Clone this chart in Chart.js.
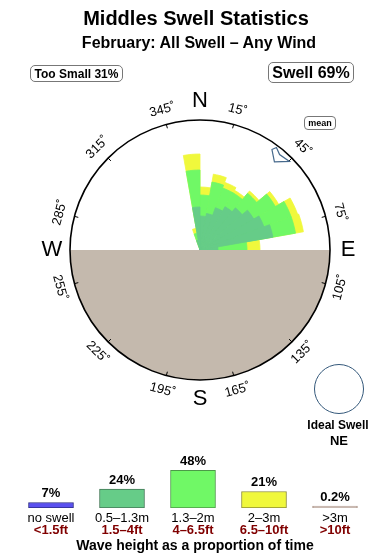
<!DOCTYPE html>
<html>
<head>
<meta charset="utf-8">
<script src="https://cdn.jsdelivr.net/npm/chart.js@4.4.1/dist/chart.umd.min.js"></script>
<style>
body{margin:0;background:#fff;font-family:"Liberation Sans",Arial,sans-serif;}
#wrap{position:relative;width:390px;height:560px;overflow:hidden;}
canvas{position:absolute;left:0;}
.t{position:absolute;white-space:nowrap;font-weight:bold;color:#000;}
.c{left:0;width:390px;text-align:center;}
.box{position:absolute;border:1px solid #777;border-radius:5px;box-sizing:border-box;display:flex;align-items:center;justify-content:center;font-weight:bold;white-space:nowrap;}
</style>
</head>
<body>
<div id="wrap">
<canvas id="rose" width="390" height="440" style="top:0"></canvas>
<canvas id="bands" width="390" height="120" style="top:440px"></canvas>

<div class="t c" style="top:8px;font-size:20px;line-height:21px;left:1px">Middles Swell Statistics</div>
<div class="t c" style="top:35px;font-size:16px;line-height:16px;left:4px">February: All Swell – Any Wind</div>
<div class="box" style="left:30px;top:65px;width:93px;height:17px;font-size:12px">Too Small 31%</div>
<div class="box" style="left:268px;top:62px;width:86px;height:21px;font-size:16px">Swell 69%</div>
<div class="box" style="left:304px;top:116px;width:32px;height:14px;font-size:9px;border-radius:4px">mean</div>

<div style="position:absolute;left:314px;top:364px;width:50px;height:50px;border:1px solid #34587a;border-radius:50%;box-sizing:border-box"></div>
<div class="t" style="left:288px;width:100px;text-align:center;top:419px;font-size:12px;line-height:12px">Ideal Swell</div>
<div class="t" style="left:289px;width:100px;text-align:center;top:434px;font-size:13px;line-height:13px">NE</div>

<div class="t c" style="top:538px;font-size:14px;line-height:14px">Wave height as a proportion of time</div>
</div>

<script>
// direction bins (centre of each 10 degree sector, clockwise from north)
var dirBins = [5,15,25,35,45,55,65,75,85,95,105,115,125,135,145,155,165,175,
               185,195,205,215,225,235,245,255,265,275,285,295,305,315,325,335,345,355];

// rose values per wave-height band, one per direction bin
var swellSmall = [3.4,3.7,4.5,5.0,5.5,6.2,6.8,7.4,1.8, 0,0,0,0,0,0,0,0,0,0,0,0,0,0,0,0,0,0,0,0,0,0,0,0,0, 1.0,4.3];
var swellMid   = [2.1,3.2,2.1,1.6,1.9,2.5,2.9,2.3,2.9, 0,0,0,0,0,0,0,0,0,0,0,0,0,0,0,0,0,0,0,0,0,0,0,0,0, 0.7,3.7];
var swellBig   = [0.8,0.8,0.6,0.3,0.3,0.4,0.7,0.8,1.3, 0,0,0,0,0,0,0,0,0,0,0,0,0,0,0,0,0,0,0,0,0,0,0,0,0, 0.5,1.6];
var roseMax = 13;

var degLabels = [15,45,75,105,135,165,195,225,255,285,315,345];
var compass = [["N",0],["E",90],["S",180],["W",270]];
var meanDir = 45;

// bottom band chart
var bandMetric = ["no swell","0.5–1.3m","1.3–2m","2–3m",">3m"];
var bandFeet   = ["<1.5ft","1.5–4ft","4–6.5ft","6.5–10ft",">10ft"];
var bandPct    = [7,24,48,21,0.2];

var cGreen1 = "#66cc88", cGreen2 = "#70f866", cYellow = "#f0f83c";

// stacked look: draw cumulative totals, smallest on top
var cum1 = swellSmall.slice();
var cum2 = swellSmall.map(function(v,i){ return v + swellMid[i]; });
var cum3 = cum2.map(function(v,i){ return v + swellBig[i]; });

var roseDecor = {
  id: "roseDecor",
  afterDatasetsDraw: function(chart){
    var sc = chart.scales.r, ctx = chart.ctx;
    var cx = sc.xCenter, cy = sc.yCenter, R = sc.drawingArea;
    ctx.save();
    // land half
    ctx.fillStyle = "#c4b9ad";
    ctx.beginPath();
    ctx.arc(cx, cy, R, 0, Math.PI);
    ctx.closePath();
    ctx.fill();
    // outer ring
    ctx.strokeStyle = "#000";
    ctx.lineWidth = 1.6;
    ctx.beginPath();
    ctx.arc(cx, cy, R, 0, Math.PI*2);
    ctx.stroke();
    // ticks + degree labels
    ctx.lineWidth = 1;
    ctx.fillStyle = "#000";
    ctx.font = "13px 'Liberation Sans', Arial, sans-serif";
    ctx.textAlign = "center";
    ctx.textBaseline = "middle";
    degLabels.forEach(function(a){
      var t = (a - 90) * Math.PI / 180;
      ctx.beginPath();
      ctx.moveTo(cx + Math.cos(t)*(R-4), cy + Math.sin(t)*(R-4));
      ctx.lineTo(cx + Math.cos(t)*R, cy + Math.sin(t)*R);
      ctx.stroke();
      ctx.save();
      ctx.translate(cx + Math.cos(t)*(R+15), cy + Math.sin(t)*(R+15));
      var rot = (a > 90 && a < 270) ? a - 180 : a;
      ctx.rotate(rot * Math.PI / 180);
      ctx.fillText(a + "˚", 0, 0);
      ctx.restore();
    });
    // compass letters
    ctx.font = "22px 'Liberation Sans', Arial, sans-serif";
    compass.forEach(function(p){
      var t = (p[1] - 90) * Math.PI / 180;
      ctx.fillText(p[0], cx + Math.cos(t)*(R+18), cy + Math.sin(t)*(R+19));
    });
    // mean direction marker
    var pts = [[-9.4,123.6],[-8.3,127.9],[-5.2,124.3],[0.3,125.9],[-4.8,115.3]];
    ctx.strokeStyle = "#46698c";
    ctx.lineWidth = 1.2;
    ctx.beginPath();
    pts.forEach(function(p,i){
      var t = (meanDir + p[0] - 90) * Math.PI / 180;
      var x = cx + Math.cos(t)*p[1], y = cy + Math.sin(t)*p[1];
      if (i === 0) ctx.moveTo(x,y); else ctx.lineTo(x,y);
    });
    ctx.closePath();
    ctx.stroke();
    ctx.restore();
  }
};

new Chart(document.getElementById("rose"), {
  type: "polarArea",
  data: {
    labels: dirBins,
    datasets: [
      {label: "0.5–1.3m", data: cum1, backgroundColor: cGreen1, borderColor: cGreen1, borderWidth: 0.8},
      {label: "1.3–2m", data: cum2, backgroundColor: cGreen2, borderColor: cGreen2, borderWidth: 0.8},
      {label: "2–3m", data: cum3, backgroundColor: cYellow, borderColor: cYellow, borderWidth: 0.8}
    ]
  },
  options: {
    responsive: false,
    animation: false,
    layout: {padding: {left: 70, right: 60, top: 120, bottom: 60}},
    plugins: {legend: {display: false}, tooltip: {enabled: false}},
    scales: {
      r: {
        min: 0, max: roseMax, startAngle: 0,
        ticks: {display: false},
        grid: {display: false},
        angleLines: {display: false},
        pointLabels: {display: false}
      }
    }
  },
  plugins: [roseDecor]
});

var bandText = {
  id: "bandText",
  afterDatasetsDraw: function(chart){
    var ctx = chart.ctx, meta = chart.getDatasetMeta(0);
    ctx.save();
    ctx.textAlign = "center";
    ctx.textBaseline = "middle";
    meta.data.forEach(function(bar, i){
      ctx.fillStyle = "#000";
      ctx.font = "bold 13px 'Liberation Sans', Arial, sans-serif";
      ctx.fillText(bandPct[i] + "%", bar.x, bar.y - 9);
      ctx.font = "13px 'Liberation Sans', Arial, sans-serif";
      ctx.fillText(bandMetric[i], bar.x, 78);
      ctx.fillStyle = "#800000";
      ctx.font = "bold 13px 'Liberation Sans', Arial, sans-serif";
      ctx.fillText(bandFeet[i], bar.x, 90.5);
    });
    ctx.restore();
  }
};

new Chart(document.getElementById("bands"), {
  type: "bar",
  data: {
    labels: bandMetric,
    datasets: [{
      data: bandPct,
      backgroundColor: ["#5a50f0", cGreen1, cGreen2, cYellow, "#c9b7ad"],
      borderColor: ["#2c2c86", "#447a58", "#4c9a48", "#8e8e34", "#b8a49a"],
      borderWidth: 1,
      borderSkipped: false,
      barThickness: 45,
      minBarLength: 2
    }]
  },
  options: {
    responsive: false,
    animation: false,
    layout: {padding: {left: 15.5, right: 19.5, top: 20, bottom: 52}},
    plugins: {legend: {display: false}, tooltip: {enabled: false}},
    scales: {
      x: {display: false},
      y: {display: false, min: 0, max: 61}
    }
  },
  plugins: [bandText]
});
</script>
</body>
</html>
